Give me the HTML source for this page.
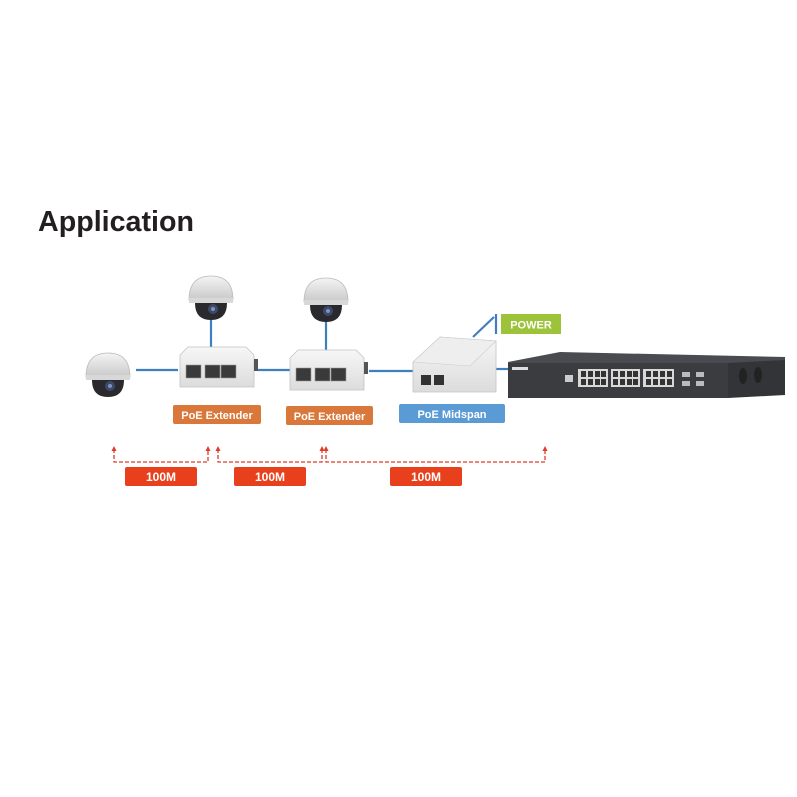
<!DOCTYPE html>
<html><head><meta charset="utf-8"><style>
html,body{margin:0;padding:0;background:#fff;}
svg{display:block;}
text{font-family:"Liberation Sans",sans-serif;}
</style></head><body>
<svg width="797" height="797" viewBox="0 0 797 797" xmlns="http://www.w3.org/2000/svg">
<defs>
<linearGradient id="dome" x1="0" y1="0" x2="0" y2="1"><stop offset="0" stop-color="#f4f4f4"/><stop offset="1" stop-color="#c9c9c9"/></linearGradient>
<linearGradient id="box" x1="0" y1="0" x2="0" y2="1"><stop offset="0" stop-color="#f7f7f7"/><stop offset="1" stop-color="#dcdcdc"/></linearGradient>
<g id="cam">
<path d="M-22,2 Q-22,-22 0,-22 Q22,-22 22,2 Z" fill="url(#dome)" stroke="#bbb" stroke-width="0.8"/>
<rect x="-22" y="0" width="44" height="5" fill="#d8d8d8"/>
<path d="M-16,5 Q-16,22 0,22 Q16,22 16,5 Z" fill="#2a2a2e"/>
<circle cx="2" cy="11" r="5" fill="#3c4a6a"/>
<circle cx="2" cy="11" r="2" fill="#8090c0"/>
</g>
<g id="ext">
<path d="M0,8 L8,0 L66,0 L74,8 L74,40 L0,40 Z" fill="url(#box)" stroke="#c4c4c4" stroke-width="0.8"/>
<rect x="74" y="12" width="4" height="12" fill="#555"/>
<rect x="6" y="18" width="15" height="13" fill="#3a3a3a" stroke="#999" stroke-width="0.6"/>
<rect x="25" y="18" width="15" height="13" fill="#3a3a3a" stroke="#999" stroke-width="0.6"/>
<rect x="41" y="18" width="15" height="13" fill="#3a3a3a" stroke="#999" stroke-width="0.6"/>
</g>
</defs>

<text x="38" y="231" font-size="29" font-weight="bold" fill="#231f20" textLength="156" lengthAdjust="spacingAndGlyphs">Application</text>

<!-- blue connectors -->
<g stroke="#3f7fbf" stroke-width="2.2" fill="none">
<line x1="136" y1="370" x2="178" y2="370"/>
<line x1="257" y1="370" x2="290" y2="370"/>
<line x1="369" y1="371" x2="413" y2="371"/>
<line x1="496" y1="369" x2="509" y2="369"/>
<line x1="211" y1="318" x2="211" y2="348"/>
<line x1="326" y1="320" x2="326" y2="351"/>
<polyline points="473,337 494,317"/>
<line x1="496" y1="314" x2="496" y2="334"/>
</g>

<use href="#cam" x="108" y="375"/>
<use href="#cam" x="211" y="298"/>
<use href="#cam" x="326" y="300"/>

<use href="#ext" x="180" y="347"/>
<use href="#ext" x="290" y="350"/>

<!-- midspan -->
<path d="M413,362 L440,337 L496,341 L496,392 L413,392 Z" fill="url(#box)" stroke="#c4c4c4" stroke-width="0.8"/>
<path d="M413,362 L440,337 L496,341 L470,366 Z" fill="#eeeeee" stroke="#ccc" stroke-width="0.6"/>
<rect x="421" y="375" width="10" height="10" fill="#333"/>
<rect x="434" y="375" width="10" height="10" fill="#333"/>

<!-- switch -->
<path d="M508,362 L560,352 L785,357 L785,363 L508,366 Z" fill="#4a4b50"/>
<rect x="508" y="363" width="220" height="35" fill="#3b3c40"/>
<path d="M728,363 L785,360 L785,395 L728,398 Z" fill="#333438"/>
<rect x="565" y="375" width="8" height="7" fill="#ccc"/>
<g fill="#d8d8d8">
<rect x="578" y="369" width="30" height="18"/>
<rect x="611" y="369" width="29" height="18"/>
<rect x="643" y="369" width="31" height="18"/>
</g>
<g fill="#333">
<rect x="581" y="371" width="5" height="6"/><rect x="588" y="371" width="5" height="6"/><rect x="595" y="371" width="5" height="6"/><rect x="601" y="371" width="5" height="6"/>
<rect x="581" y="379" width="5" height="6"/><rect x="588" y="379" width="5" height="6"/><rect x="595" y="379" width="5" height="6"/><rect x="601" y="379" width="5" height="6"/>
<rect x="613" y="371" width="5" height="6"/><rect x="620" y="371" width="5" height="6"/><rect x="627" y="371" width="5" height="6"/><rect x="633" y="371" width="5" height="6"/>
<rect x="613" y="379" width="5" height="6"/><rect x="620" y="379" width="5" height="6"/><rect x="627" y="379" width="5" height="6"/><rect x="633" y="379" width="5" height="6"/>
<rect x="646" y="371" width="5" height="6"/><rect x="653" y="371" width="5" height="6"/><rect x="660" y="371" width="5" height="6"/><rect x="667" y="371" width="5" height="6"/>
<rect x="646" y="379" width="5" height="6"/><rect x="653" y="379" width="5" height="6"/><rect x="660" y="379" width="5" height="6"/><rect x="667" y="379" width="5" height="6"/>
</g>
<g fill="#bbb"><rect x="682" y="372" width="8" height="5"/><rect x="682" y="381" width="8" height="5"/><rect x="696" y="372" width="8" height="5"/><rect x="696" y="381" width="8" height="5"/></g>
<rect x="512" y="367" width="16" height="3" fill="#ddd"/>
<ellipse cx="743" cy="376" rx="4" ry="8" fill="#222"/>
<ellipse cx="758" cy="375" rx="4" ry="8" fill="#222"/>

<!-- labels -->
<rect x="501" y="314" width="60" height="20" fill="#9dc33b"/>
<text x="531" y="328.5" font-size="11" font-weight="bold" fill="#fff" text-anchor="middle">POWER</text>
<rect x="173" y="405" width="88" height="19" rx="2" fill="#d9783a"/>
<text x="217" y="419" font-size="11" font-weight="bold" fill="#fff" text-anchor="middle">PoE Extender</text>
<rect x="286" y="406" width="87" height="19" rx="2" fill="#d9783a"/>
<text x="329.5" y="420" font-size="11" font-weight="bold" fill="#fff" text-anchor="middle">PoE Extender</text>
<rect x="399" y="404" width="106" height="19" rx="2" fill="#5b9bd5"/>
<text x="452" y="418" font-size="11" font-weight="bold" fill="#fff" text-anchor="middle">PoE Midspan</text>

<!-- red dashed -->
<g stroke="#e03a2a" stroke-width="1.3" fill="none" stroke-dasharray="4,2">
<polyline points="114,449 114,462 208,462 208,449"/>
<polyline points="218,449 218,462 322,462 322,449"/>
<polyline points="326,449 326,462 545,462 545,449"/>
</g>
<g fill="#e03a2a">
<polygon points="114,446 111.5,451 116.5,451"/>
<polygon points="208,446 205.5,451 210.5,451"/>
<polygon points="218,446 215.5,451 220.5,451"/>
<polygon points="322,446 319.5,451 324.5,451"/>
<polygon points="326,446 323.5,451 328.5,451"/>
<polygon points="545,446 542.5,451 547.5,451"/>
</g>
<g fill="#e8401c">
<rect x="125" y="467" width="72" height="19" rx="2"/>
<rect x="234" y="467" width="72" height="19" rx="2"/>
<rect x="390" y="467" width="72" height="19" rx="2"/>
</g>
<g font-size="12" font-weight="bold" fill="#fff" text-anchor="middle">
<text x="161" y="481">100M</text>
<text x="270" y="481">100M</text>
<text x="426" y="481">100M</text>
</g>
</svg>
</body></html>
